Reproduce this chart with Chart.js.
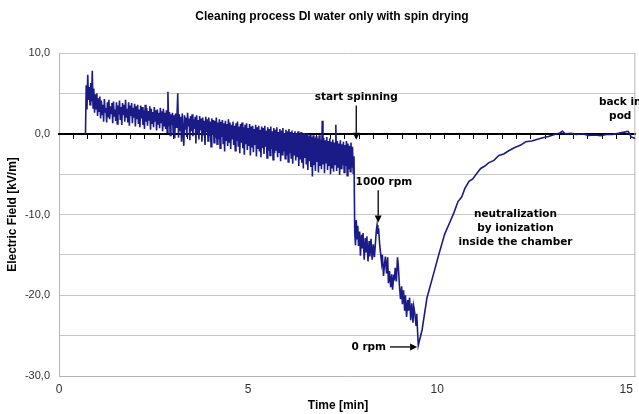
<!DOCTYPE html>
<html>
<head>
<meta charset="utf-8">
<script src="https://cdn.jsdelivr.net/npm/chart.js@4.4.0/dist/chart.umd.min.js"></script>
<style>
  html, body { margin: 0; padding: 0; background: #fff; }
</style>
</head>
<body>
<canvas id="myChart" width="639" height="414"></canvas>
<script>
// field probe log: time in minutes, field in kV/m
// wafer in wet bath (noisy part), 0.02 min per sample
const bathTime = [
  0.70,
  0.72, 0.74, 0.76, 0.78, 0.80, 0.82, 0.84, 0.86, 0.88, 0.90,
  0.92, 0.94, 0.96, 0.98, 1.00, 1.02, 1.04, 1.06, 1.08, 1.10,
  1.12, 1.14, 1.16, 1.18, 1.20, 1.22, 1.24, 1.26, 1.28, 1.30,
  1.32, 1.34, 1.36, 1.38, 1.40, 1.42, 1.44, 1.46, 1.48, 1.50,
  1.52, 1.54, 1.56, 1.58, 1.60, 1.62, 1.64, 1.66, 1.68, 1.70,
  1.72, 1.74, 1.76, 1.78, 1.80, 1.82, 1.84, 1.86, 1.88, 1.90,
  1.92, 1.94, 1.96, 1.98, 2.00, 2.02, 2.04, 2.06, 2.08, 2.10,
  2.12, 2.14, 2.16, 2.18, 2.20, 2.22, 2.24, 2.26, 2.28, 2.30,
  2.32, 2.34, 2.36, 2.38, 2.40, 2.42, 2.44, 2.46, 2.48, 2.50,
  2.52, 2.54, 2.56, 2.58, 2.60, 2.62, 2.64, 2.66, 2.68, 2.70,
  2.72, 2.74, 2.76, 2.78, 2.80, 2.82, 2.84, 2.86, 2.88, 2.90,
  2.92, 2.94, 2.96, 2.98, 3.00, 3.02, 3.04, 3.06, 3.08, 3.10,
  3.12, 3.14, 3.16, 3.18, 3.20, 3.22, 3.24, 3.26, 3.28, 3.30,
  3.32, 3.34, 3.36, 3.38, 3.40, 3.42, 3.44, 3.46, 3.48, 3.50,
  3.52, 3.54, 3.56, 3.58, 3.60, 3.62, 3.64, 3.66, 3.68, 3.70,
  3.72, 3.74, 3.76, 3.78, 3.80, 3.82, 3.84, 3.86, 3.88, 3.90,
  3.92, 3.94, 3.96, 3.98, 4.00, 4.02, 4.04, 4.06, 4.08, 4.10,
  4.12, 4.14, 4.16, 4.18, 4.20, 4.22, 4.24, 4.26, 4.28, 4.30,
  4.32, 4.34, 4.36, 4.38, 4.40, 4.42, 4.44, 4.46, 4.48, 4.50,
  4.52, 4.54, 4.56, 4.58, 4.60, 4.62, 4.64, 4.66, 4.68, 4.70,
  4.72, 4.74, 4.76, 4.78, 4.80, 4.82, 4.84, 4.86, 4.88, 4.90,
  4.92, 4.94, 4.96, 4.98, 5.00, 5.02, 5.04, 5.06, 5.08, 5.10,
  5.12, 5.14, 5.16, 5.18, 5.20, 5.22, 5.24, 5.26, 5.28, 5.30,
  5.32, 5.34, 5.36, 5.38, 5.40, 5.42, 5.44, 5.46, 5.48, 5.50,
  5.52, 5.54, 5.56, 5.58, 5.60, 5.62, 5.64, 5.66, 5.68, 5.70,
  5.72, 5.74, 5.76, 5.78, 5.80, 5.82, 5.84, 5.86, 5.88, 5.90,
  5.92, 5.94, 5.96, 5.98, 6.00, 6.02, 6.04, 6.06, 6.08, 6.10,
  6.12, 6.14, 6.16, 6.18, 6.20, 6.22, 6.24, 6.26, 6.28, 6.30,
  6.32, 6.34, 6.36, 6.38, 6.40, 6.42, 6.44, 6.46, 6.48, 6.50,
  6.52, 6.54, 6.56, 6.58, 6.60, 6.62, 6.64, 6.66, 6.68, 6.70,
  6.72, 6.74, 6.76, 6.78, 6.80, 6.82, 6.84, 6.86, 6.88, 6.90,
  6.92, 6.94, 6.96, 6.98, 7.00, 7.02, 7.04, 7.06, 7.08, 7.10,
  7.12, 7.14, 7.16, 7.18, 7.20, 7.22, 7.24, 7.26, 7.28, 7.30,
  7.32, 7.34, 7.36, 7.38, 7.40, 7.42, 7.44, 7.46, 7.48, 7.50,
  7.52, 7.54, 7.56, 7.58, 7.60, 7.62, 7.64, 7.66, 7.68, 7.70,
  7.72, 7.74, 7.76, 7.78, 7.80
];
const bathField = [
  0.0,
  6.0, 3.0, 7.3, 4.2, 5.8, 3.6, 6.3, 4.0, 7.8, 3.2,
  5.6, 2.6, 4.9, 3.1, 5.0, 2.2, 4.4, 2.8, 4.6, 1.9,
  4.1, 2.4, 3.6, 1.5, 4.3, 2.7, 3.2, 1.4, 3.9, 2.1,
  4.2, 1.8, 3.4, 2.5, 3.8, 1.3, 4.0, 2.2, 3.0, 1.6,
  3.9, 1.2, 3.5, 2.4, 4.1, 1.7, 3.3, 1.1, 3.8, 2.3,
  3.6, 1.5, 4.2, 2.0, 3.1, 1.4, 3.9, 1.0, 3.5, 2.2,
  3.8, 1.3, 3.2, 2.0, 3.7, 0.9, 3.4, 1.8, 3.6, 1.2,
  3.0, 0.8, 3.5, 1.9, 3.3, 1.1, 2.9, 0.6, 3.6, 1.5,
  3.2, 1.0, 2.8, 1.7, 3.4, 0.5, 3.1, 1.3, 2.7, 0.8,
  3.3, 1.6, 2.9, 0.4, 3.0, 1.2, 2.6, 0.7, 3.2, 1.4,
  2.8, 0.3, 3.1, 1.0, 2.6, 0.6, 2.9, 0.2, 5.2, 0.9,
  2.7, -0.2, 2.4, 1.1, 2.6, 0.0, 2.3, -0.6, 2.5, 0.8,
  2.2, 5.0, -0.5, 2.4, 0.4, 2.1, -1.0, 2.5, 0.2, -1.5,
  2.3, 0.5, 2.0, -0.4, 2.6, 0.9, 1.9, -0.8, 2.2, 0.3,
  2.4, -0.3, 1.8, 0.6, 2.1, -1.2, 2.3, 0.1, 1.7, -0.7,
  2.2, 0.4, 1.9, -1.0, 2.0, -0.2, 1.6, -1.4, 2.1, 0.2,
  1.8, -0.9, 2.0, -0.3, 1.5, -1.6, 1.9, 0.0, 1.7, -1.1,
  1.6, -0.5, 2.0, -1.3, 1.4, -0.7, 1.8, -1.8, 1.5, -0.4,
  1.7, -1.2, 1.3, -2.2, 1.6, -0.8, 1.2, -1.5, 1.8, -1.0,
  1.4, -1.9, 1.1, -0.6, 1.5, -1.4, 1.0, -2.1, 1.3, -0.9,
  1.5, -1.6, 0.9, -2.4, 1.2, -1.1, 1.4, -1.8, 0.8, -2.6,
  1.1, -1.3, 1.3, -2.0, 0.7, -1.5, 1.2, -2.7, 0.9, -1.7,
  1.0, -2.3, 0.6, -1.4, 1.1, -2.8, 0.8, -1.9, 1.0, -2.2,
  0.5, -2.9, 0.9, -1.8, 0.7, -2.5, 1.0, -1.6, 0.4, -3.0,
  0.8, -2.1, 0.6, -2.7, 0.9, -1.9, 0.3, -3.2, 0.7, -2.4,
  0.5, -2.0, 0.8, -2.9, 0.2, -2.3, 0.6, -3.4, 0.4, -2.6,
  0.7, -2.2, 0.1, -3.1, 0.5, -2.7, 0.3, -3.5, 0.6, -2.4,
  0.2, -3.0, 0.4, -3.7, 0.0, -2.6, 0.3, -3.3, 0.1, -2.9,
  0.3, -4.0, -0.1, -3.2, 0.2, -3.6, -0.2, -4.3, 0.1, -3.0,
  -0.1, -3.8, 0.0, -4.5, -0.3, -3.4, -0.1, -4.1, -0.4, -5.3,
  -0.2, -3.9, -0.5, -4.6, -0.3, -3.5, -0.6, -4.8, -0.2, -4.0,
  -0.7, -4.4, 1.6, -3.8, -0.5, -4.9, -0.8, -3.6, -0.4, -4.5,
  -0.9, -3.9, -0.6, -5.0, -1.0, -4.2, -0.7, -4.7, -1.1, -3.8,
  1.1, -4.6, -0.9, -4.1, -1.2, -5.1, -0.8, -4.3, -1.3, -3.9,
  -1.0, -4.8, -1.4, -4.0, -0.9, -5.2, -1.2, -4.4, -1.5, -4.7,
  -1.1, -4.2, -1.6, -4.9, -2.8
];

// spin dryer running, field drops
const spinTime = [
  7.82, 7.84, 7.86, 7.88, 7.90, 7.92, 7.95, 7.97, 8.00, 8.02, 8.04, 8.07,
  8.10, 8.12, 8.14, 8.17, 8.20, 8.22, 8.25, 8.28, 8.31, 8.34, 8.36, 8.39,
  8.41, 8.43, 8.45, 8.48, 8.50, 8.53, 8.55, 8.58, 8.61, 8.63, 8.66, 8.69,
  8.71, 8.74, 8.77, 8.80, 8.82, 8.85, 8.87, 8.89, 8.92, 8.95, 8.97, 9.00,
  9.03, 9.06, 9.08, 9.11, 9.14, 9.16, 9.19, 9.22, 9.24, 9.27, 9.30, 9.33,
  9.36, 9.38, 9.41, 9.44, 9.46, 9.48, 9.50
];
const spinField = [
  -12.3, -13.8, -10.7, -13.0, -11.4, -13.9, -12.1, -15.1, -12.5, -14.2, -12.3, -15.6,
  -12.9, -14.6, -12.7, -15.8, -13.3, -15.2, -13.0, -15.6, -13.7, -15.3, -14.0, -12.0,
  -11.3, -12.4, -11.7, -13.8, -14.7, -16.0, -15.0, -17.6, -16.0, -15.2, -17.3, -15.3,
  -18.5, -17.0, -19.0, -17.4, -19.3, -17.7, -17.9, -16.6, -18.3, -15.3, -16.2, -18.7,
  -20.5, -18.9, -21.1, -19.4, -21.9, -20.0, -22.7, -20.6, -21.9, -20.3, -23.1, -21.0,
  -23.4, -21.4, -22.3, -23.7, -22.3, -24.4, -26.2
];

// rotor stopped, ionizer neutralizes the chamber
const restTime = [
  9.60, 9.73, 9.86, 10.04, 10.20, 10.34, 10.44, 10.55, 10.65, 10.73, 10.84,
  10.94, 11.05, 11.15, 11.26, 11.36, 11.50, 11.63, 11.76, 11.89, 12.05,
  12.21, 12.34, 12.50, 12.63, 12.79, 12.94, 13.10, 13.24, 13.31, 13.39,
  13.55, 13.68, 13.84, 14.00, 14.16, 14.32, 14.47, 14.63, 14.79, 14.95,
  15.05, 15.13, 15.24
];
const restField = [
  -24.3, -20.3, -18.1, -15.0, -12.4, -10.9, -9.8, -8.4, -7.8, -6.8, -5.9,
  -5.6, -4.9, -4.3, -4.0, -3.6, -3.3, -2.7, -2.5, -2.1, -1.7,
  -1.4, -1.0, -0.9, -0.7, -0.5, -0.35, -0.1, 0.1, 0.3, 0.0,
  0.05, -0.1, 0.0, -0.2, -0.15, -0.25, -0.1, -0.1, 0.05, 0.2,
  0.3, -0.4, -0.6
];

const xTicks = [0, 5, 10, 15];
const yTicks = [-30, -20, -10, 0, 10];

const chartTitle = 'Cleaning process DI water only with spin drying';
const xTitle = 'Time [min]';

const notes = [
  { lines: ['start spinning'], t: 7.86, v: 4.5 },
  { lines: ['1000 rpm'], t: 8.59, v: -5.95 },
  { lines: ['0 rpm'], t: 8.19, v: -26.4 },
  { lines: ['neutralization', 'by ionization', 'inside the chamber'], t: 12.07, v: -10.0 },
  { lines: ['back in', 'pod'], t: 14.84, v: 3.85 }
];
const arrows = [
  { from: [7.86, 3.5], to: [7.86, -0.75] },
  { from: [8.44, -7.0], to: [8.44, -11.0] },
  { from: [8.75, -26.4], to: [9.47, -26.4] }
];

const labelFont = 'Liberation Sans, Arial, sans-serif';
const noteFont = 'DejaVu Sans, Verdana, sans-serif';

const timeMin = bathTime.concat(spinTime, restTime);
const fieldKV = bathField.concat(spinField, restField);
const points = timeMin.map((t, i) => ({ x: t, y: fieldKV[i] }));

// right frame line, chart title and x axis title
const frame = {
  id: 'frame',
  beforeDatasetsDraw(chart) {
    const { ctx, chartArea: a } = chart;
    ctx.save();
    ctx.strokeStyle = '#b4b4b4';
    ctx.lineWidth = 1;
    ctx.beginPath();
    ctx.moveTo(a.right - 0.5, a.top);
    ctx.lineTo(a.right - 0.5, a.bottom);
    ctx.stroke();
    ctx.fillStyle = '#000';
    ctx.font = 'bold 12px ' + labelFont;
    ctx.textAlign = 'center';
    ctx.textBaseline = 'middle';
    ctx.fillText(chartTitle, 332, 17);
    ctx.fillText(xTitle, 338, 406);
    ctx.restore();
  }
};

function arrow(ctx, x1, y1, x2, y2) {
  const ang = Math.atan2(y2 - y1, x2 - x1);
  const len = 7, half = 3.5;
  const bx = x2 - len * Math.cos(ang), by = y2 - len * Math.sin(ang);
  ctx.beginPath();
  ctx.moveTo(x1, y1);
  ctx.lineTo(bx, by);
  ctx.stroke();
  ctx.beginPath();
  ctx.moveTo(x2, y2);
  ctx.lineTo(bx - half * Math.sin(ang), by + half * Math.cos(ang));
  ctx.lineTo(bx + half * Math.sin(ang), by - half * Math.cos(ang));
  ctx.closePath();
  ctx.fill();
}

const annotations = {
  id: 'annotations',
  afterDatasetsDraw(chart) {
    const { ctx, scales: { x, y } } = chart;
    ctx.save();
    ctx.fillStyle = '#000';
    ctx.strokeStyle = '#000';
    ctx.lineWidth = 1.3;
    ctx.font = 'bold 10.5px ' + noteFont;
    ctx.textAlign = 'center';
    ctx.textBaseline = 'middle';
    notes.forEach(n => {
      const px = x.getPixelForValue(n.t);
      const py = y.getPixelForValue(n.v);
      n.lines.forEach((s, i) => ctx.fillText(s, px, py + i * 14));
    });
    arrows.forEach(a => {
      arrow(ctx,
        x.getPixelForValue(a.from[0]), y.getPixelForValue(a.from[1]),
        x.getPixelForValue(a.to[0]), y.getPixelForValue(a.to[1]));
    });
    ctx.restore();
  }
};

let ctx = document.getElementById('myChart').getContext('2d');
var myChart = new Chart(ctx, {
  type: 'scatter',
  data: {
    datasets: [{
      data: points,
      showLine: true,
      borderColor: '#1b1b88',
      borderWidth: 1.6,
      pointRadius: 0,
      tension: 0
    }]
  },
  options: {
    responsive: false,
    animation: false,
    layout: { padding: { left: 0, right: 2, top: 53, bottom: 0 } },
    plugins: {
      legend: { display: false },
      tooltip: { enabled: false },
      title: { display: false }
    },
    scales: {
      x: {
        type: 'linear',
        min: 0,
        max: 15.24,
        afterFit: s => { s.height = 38; },
        afterBuildTicks: s => { s.ticks = xTicks.map(v => ({ value: v })); },
        grid: { display: false, drawTicks: false },
        border: { display: true, color: '#b4b4b4' },
        ticks: {
          padding: 6,
          color: '#333',
          font: { family: labelFont, size: 12 }
        }
      },
      y: {
        min: -30,
        max: 10,
        afterFit: s => { s.width = 59; },
        grid: { color: '#c8c8c8', drawTicks: false },
        border: { color: '#b4b4b4' },
        ticks: {
          stepSize: 5,
          padding: 9,
          color: '#333',
          font: { family: labelFont, size: 11 },
          callback: v => yTicks.includes(v) ? v.toFixed(1).replace('.', ',') : ''
        },
        title: {
          display: true,
          text: 'Electric Field [kV/m]',
          color: '#000',
          font: { family: labelFont, size: 12, weight: 'bold' },
          padding: { top: 5, bottom: 0 }
        }
      },
      // zero line with its small tick marks
      xZero: {
        type: 'linear',
        axis: 'x',
        min: 0,
        max: 15.24,
        position: { y: 0 },
        grid: { drawOnChartArea: false, drawTicks: true, tickLength: 4, color: '#000', lineWidth: 1 },
        border: { color: '#000', width: 2 },
        ticks: { display: false, stepSize: 0.378, includeBounds: false }
      }
    }
  },
  plugins: [frame, annotations]
});
</script>
</body>
</html>
